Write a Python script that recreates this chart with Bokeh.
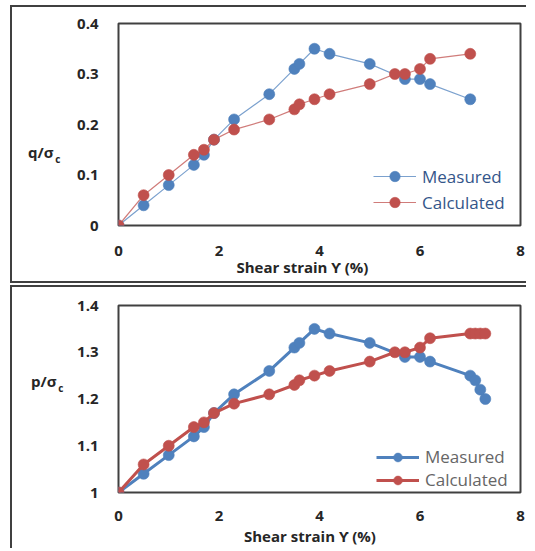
from bokeh.plotting import figure
from bokeh.models import Range1d, FixedTicker, LinearAxis, Legend, LegendItem, InlineStyleSheet
from bokeh.layouts import column
from bokeh.embed import file_html
from bokeh.resources import INLINE

# ---- data ----
strain_meas_q = [0, 0.5, 1, 1.5, 1.7, 1.9, 2.3, 3, 3.5, 3.6, 3.9, 4.2, 5, 5.7, 6, 6.2, 7]
q_meas = [0, 0.04, 0.08, 0.12, 0.14, 0.17, 0.21, 0.26, 0.31, 0.32, 0.35, 0.34, 0.32, 0.29, 0.29, 0.28, 0.25]
strain_calc_q = [0, 0.5, 1, 1.5, 1.7, 1.9, 2.3, 3, 3.5, 3.6, 3.9, 4.2, 5, 5.5, 5.7, 6, 6.2, 7]
q_calc = [0, 0.06, 0.10, 0.14, 0.15, 0.17, 0.19, 0.21, 0.23, 0.24, 0.25, 0.26, 0.28, 0.30, 0.30, 0.31, 0.33, 0.34]

strain_meas_p = [0, 0.5, 1, 1.5, 1.7, 1.9, 2.3, 3, 3.5, 3.6, 3.9, 4.2, 5, 5.7, 6, 6.2, 7, 7.1, 7.2, 7.3]
p_meas = [1, 1.04, 1.08, 1.12, 1.14, 1.17, 1.21, 1.26, 1.31, 1.32, 1.35, 1.34, 1.32, 1.29, 1.29, 1.28, 1.25, 1.24, 1.22, 1.20]
strain_calc_p = [0, 0.5, 1, 1.5, 1.7, 1.9, 2.3, 3, 3.5, 3.6, 3.9, 4.2, 5, 5.5, 5.7, 6, 6.2, 7, 7.1, 7.2, 7.3]
p_calc = [1, 1.06, 1.10, 1.14, 1.15, 1.17, 1.19, 1.21, 1.23, 1.24, 1.25, 1.26, 1.28, 1.30, 1.30, 1.31, 1.33, 1.34, 1.34, 1.34, 1.34]

x_ticks = [0, 2, 4, 6, 8]
q_ticks = [0, 0.1, 0.2, 0.3, 0.4]
p_ticks = [1, 1.1, 1.2, 1.3, 1.4]
series_names = ["Measured", "Calculated"]
x_title = "Shear strain \u03d2 (%)"

BLUE = "#4F81BD"
RED = "#C0504D"
FONT = "Open Sans"
DARK = "#404040"
TXT = "#262626"


def style_axis(ax, ticks, std, size="15px", overrides=None):
    ax.ticker = FixedTicker(ticks=ticks)
    ax.axis_line_color = None
    ax.major_tick_line_color = None
    ax.minor_tick_line_color = None
    ax.major_tick_out = 0
    ax.major_tick_in = 0
    ax.major_label_standoff = std
    ax.major_label_text_font = FONT
    ax.major_label_text_font_style = "bold"
    ax.major_label_text_font_size = size
    ax.major_label_text_color = TXT
    if overrides:
        ax.major_label_overrides = overrides


def make_panel(W, H, fl, fr, ft, fb, yr, yticks, xs, ys, line_w, line_alpha,
               leg_loc, leg_h, leg_color, ylab, ylab_at, sub_at, sub_std, xlab_at, xlab_std,
               box_css, tick_std_x, tick_std_y):
    p = figure(width=W, height=H, output_backend="svg", toolbar_location=None,
               x_range=Range1d(0, 8), y_range=Range1d(*yr),
               min_border_left=fl, min_border_right=fr, min_border_top=ft, min_border_bottom=fb)
    p.xgrid.visible = False
    p.ygrid.visible = False
    p.outline_line_color = DARK
    p.outline_line_width = 2
    p.background_fill_color = "white"
    p.border_fill_color = "white"
    style_axis(p.xaxis[0], x_ticks, tick_std_x)
    style_axis(p.yaxis[0], yticks, tick_std_y, overrides={t: ("%g" % t) for t in yticks})

    # axis titles: extra axes, each carrying one text at a single tick position
    ax_sub = LinearAxis()
    style_axis(ax_sub, [sub_at], sub_std, size="10px", overrides={sub_at: "c"})
    p.add_layout(ax_sub, "left")
    ax_y = LinearAxis()
    style_axis(ax_y, [ylab_at], -1, size="15px", overrides={ylab_at: ylab})
    p.add_layout(ax_y, "left")
    ax_x = LinearAxis()
    style_axis(ax_x, [xlab_at], xlab_std, overrides={xlab_at: x_title})
    p.add_layout(ax_x, "below")

    items = []
    for (x, y), col, name in zip(zip(xs, ys), (BLUE, RED), series_names):
        r1 = p.line(x, y, line_color=col, line_width=line_w, line_alpha=line_alpha)
        r2 = p.scatter(x, y, size=11, fill_color=col, line_color=col, line_alpha=0.6)
        items.append(LegendItem(label=name, renderers=[r1, r2]))
    leg = Legend(items=items, location=leg_loc, border_line_color=None,
                 background_fill_alpha=0, padding=0, margin=0, spacing=0,
                 glyph_width=43, glyph_height=leg_h, label_height=leg_h,
                 label_standoff=6, label_text_font=FONT, label_text_font_size="17px",
                 label_text_color=leg_color)
    p.add_layout(leg, "center")

    p.stylesheets = [InlineStyleSheet(css=":host { position: relative; } :host::after { content: ''; "
                                          "position: absolute; pointer-events: none; z-index: 50; "
                                          "border: 2px solid #404040; " + box_css + " }")]
    return p


W = 526
H1, H2 = 285, 263
p1 = make_panel(W, H1, 118, 6, 23, 60, (0, 0.4), q_ticks,
                (strain_meas_q, strain_calc_q), (q_meas, q_calc), 1.2, 0.75,
                (255, 10), 26, "#34568A", "q/\u03c3", 0.1446, 0.1307, 14, 3.66, -2,
                "left: 10px; top: 5px; right: 0px; bottom: 2px; border-right: none;",
                20, 20)
p2 = make_panel(W, H2, 111, 6, 20, 55, (1, 1.4), p_ticks,
                (strain_meas_p, strain_calc_p), (p_meas, p_calc), 3, 1.0,
                (258, 1), 22, "#666666", "p/\u03c3", 1.2383, 1.2234, 11, 3.81, 2,
                "left: 10px; top: 0px; right: 0px; bottom: 0px; border-right: none; border-bottom: none;",
                18, 20)

layout = column(p1, p2, spacing=0)
open("out.html", "w").write(file_html(layout, INLINE))
